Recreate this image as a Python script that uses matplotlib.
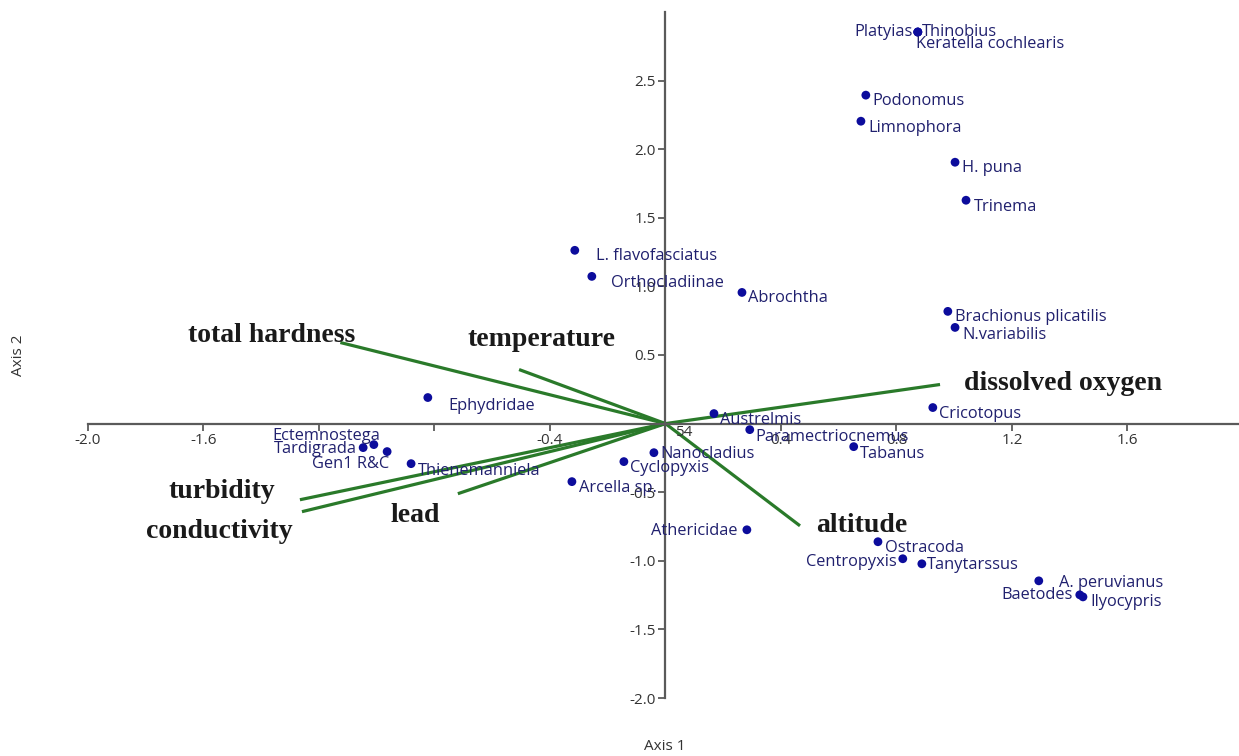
import matplotlib
matplotlib.use("Agg")
import matplotlib.pyplot as plt

# ---- data ----
species = ["Platyias", "Thinobius", "Keratella cochlearis", "Podonomus", "Limnophora",
           "H. puna", "Trinema", "L. flavofasciatus", "Orthocladiinae", "Abrochtha",
           "Brachionus plicatilis", "N.variabilis", "Ephydridae", "Cricotopus", "Austrelmis",
           "Paramectriocnemus", "Tabanus", "Nanocladius", "Cyclopyxis", "Arcella sp.",
           "Tardigrada", "Ectemnostega", "Gen1 R&C", "Thienemanniela", "Athericidae",
           "Ostracoda", "Centropyxis", "Tanytarssus", "A. peruvianus", "Baetodes", "Ilyocypris"]
sp_x = [0.874, 0.874, 0.874, 0.694, 0.677, 1.003, 1.041, -0.314, -0.255, 0.265,
        0.978, 1.003, -0.823, 0.926, 0.168, 0.292, 0.652, -0.040, -0.144, -0.324,
        -1.047, -1.010, -0.964, -0.881, 0.282, 0.736, 0.822, 0.888, 1.293, 1.435, 1.446]
sp_y = [2.854, 2.854, 2.854, 2.394, 2.204, 1.905, 1.628, 1.263, 1.073, 0.956,
        0.818, 0.701, 0.190, 0.117, 0.073, -0.044, -0.168, -0.212, -0.277, -0.423,
        -0.175, -0.153, -0.204, -0.292, -0.774, -0.861, -0.985, -1.022, -1.146, -1.248, -1.263]

variables = ["total hardness", "temperature", "dissolved oxygen", "altitude",
             "lead", "turbidity", "conductivity"]
var_x = [-1.126, -0.507, 0.951, 0.466, -0.719, -1.266, -1.259]
var_y = [0.591, 0.394, 0.285, -0.745, -0.511, -0.555, -0.642]

xticks = [-2.0, -1.6, -1.2, -0.8, -0.4, 0.0, 0.4, 0.8, 1.2, 1.6]
xticklabels = ["-2.0", "-1.6", "", "", "-0.4", "", "0.4", "0.8", "1.2", "1.6"]
yticks = [-2.0, -1.5, -1.0, -0.5, 0.0, 0.5, 1.0, 1.5, 2.0, 2.5]
yticklabels = ["-2.0", "-1.5", "-1.0", "-0.5", "", "0.5", "1.0", "1.5", "2.0", "2.5"]

# ---- label placement (pixel offsets, alignment) ----
sp_offsets = [(-5, 0, "right"), (4, 0, "left"), (-2, -12, "left"), (7, -6, "left"), (7, -7, "left"),
              (7, -6, "left"), (8, -7, "left"), (21, -6, "left"), (19, -7, "left"), (6, -6, "left"),
              (7, -6, "left"), (7, -8, "left"), (21, -8, "left"), (6, -6, "left"), (6, -6, "left"),
              (6, -7, "left"), (6, -7, "left"), (6, -1, "left"), (6, -6, "left"), (7, -6, "left"),
              (-6, -1, "right"), (6, 9, "right"), (2, -12, "right"), (7, -7, "left"), (-9, -1, "right"),
              (7, -6, "left"), (-6, -3, "right"), (5, -1, "left"), (20, -2, "left"), (-7, 0, "right"),
              (7, -5, "left")]
var_label_px = [(272, 335), (542, 340), (1063, 383), (862, 525), (415, 515), (222, 492), (219, 532)]

W, H = 1239, 756
fig = plt.figure(figsize=(W / 100, H / 100), dpi=100)
x0, x1 = -2.0, 1.983
y0, y1 = -2.0, 3.0
ax = fig.add_axes([88 / W, (H - 698) / H, 1150 / W, 686 / H])
ax.set_xlim(x0, x1)
ax.set_ylim(y0, y1)

axis_col = "#5a5a5a"
for s in ["top", "right"]:
    ax.spines[s].set_visible(False)
ax.spines["left"].set_position(("data", 0))
ax.spines["bottom"].set_position(("data", 0))
ax.spines["left"].set_color(axis_col)
ax.spines["bottom"].set_color(axis_col)
ax.spines["left"].set_linewidth(1.6)
ax.spines["bottom"].set_linewidth(1.6)

tick_font = dict(family="Open Sans", size=11, color="#333333")
ax.set_xticks(xticks)
ax.set_xticklabels(xticklabels, **tick_font)
ax.set_yticks(yticks)
ax.set_yticklabels(yticklabels, **tick_font)
ax.tick_params(axis="both", direction="out", length=5, width=1.3, color=axis_col, pad=2)

# vectors
green = "#2a7a2a"
for vx, vy in zip(var_x, var_y):
    ax.plot([0, vx], [0, vy], color=green, lw=2.3, solid_capstyle="butt", zorder=2)

# species
ax.scatter(sp_x, sp_y, s=40, color="#0c0c9c", zorder=3, edgecolors="none")
for name, x, y, (dx, dy, ha) in zip(species, sp_x, sp_y, sp_offsets):
    ax.annotate(name, (x, y), xytext=(dx, dy), textcoords="offset pixels",
                ha=ha, va="center", family="Open Sans", fontsize=11.8,
                color="#20206e", zorder=4)

# variable labels
for name, (px, py) in zip(variables, var_label_px):
    fig.text(px / W, 1 - py / H, name, ha="center", va="center",
             family="Liberation Serif", fontweight="bold", fontsize=20, color="#1a1a1a")

fig.text(684 / W, 1 - 433 / H, "54", ha="center", va="center",
         family="Open Sans", fontsize=11, color="#333333")

fig.text(665 / W, 1 - 746 / H, "Axis 1", ha="center", va="center",
         family="Open Sans", fontsize=11, color="#333333")
fig.text(19 / W, 1 - 355 / H, "Axis 2", ha="center", va="center", rotation=90,
         family="Open Sans", fontsize=11, color="#333333")

fig.savefig("out.png", dpi=100)
